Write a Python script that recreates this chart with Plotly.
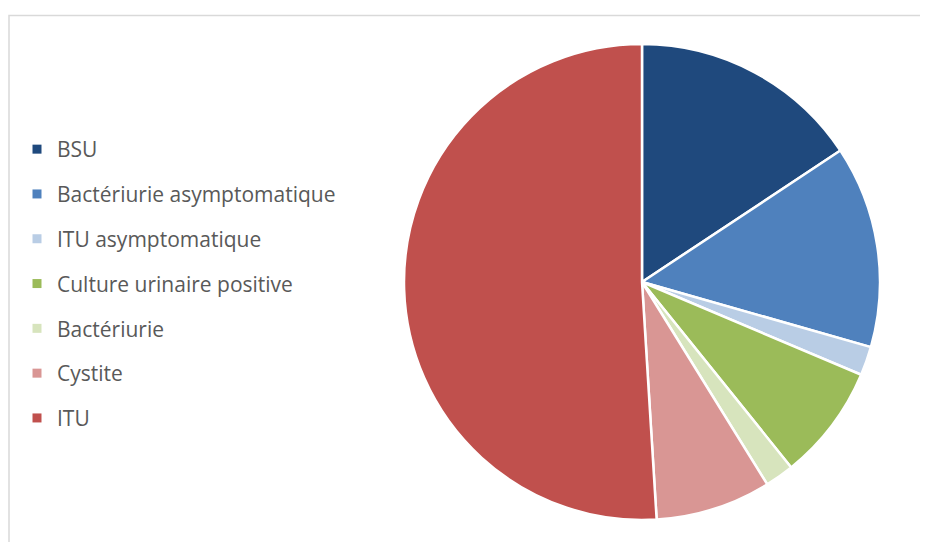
import plotly.graph_objects as go

labels = ['BSU', 'Bactériurie asymptomatique', 'ITU asymptomatique', 'Culture urinaire positive',
          'Bactériurie', 'Cystite', 'ITU']
values = [8, 7, 1, 4, 1, 4, 26]
colors = ['#1F497D', '#4F81BD', '#B9CDE5', '#9BBB59', '#D7E4BD', '#D99694', '#C0504D']

W, H = 928, 542
OFF = 8  # page body margin

fig = go.Figure()

fig.add_trace(go.Pie(
    labels=labels, values=values, sort=False, direction='clockwise', rotation=0,
    marker=dict(colors=colors, line=dict(color='white', width=2.5)),
    textinfo='none', hoverinfo='label+value+percent', showlegend=False,
    domain=dict(x=[(404 - OFF) / W, (880 - OFF) / W],
                y=[1 - (520 - OFF) / H, 1 - (44 - OFF) / H]),
))

# legend entries (one group each so the rows can be spaced out like the original)
for lab, col in zip(labels, colors):
    fig.add_trace(go.Scatter(
        x=[None], y=[None], mode='markers', name=lab, legendgroup=lab,
        marker=dict(symbol='square', size=9, color=col),
    ))

fig.update_layout(
    width=W, height=H,
    margin=dict(l=0, r=0, t=0, b=0),
    paper_bgcolor='white', plot_bgcolor='white',
    font=dict(family='Open Sans, sans-serif', color='#595959'),
    xaxis=dict(visible=False), yaxis=dict(visible=False),
    legend=dict(x=9 / W, y=1 - 121 / H, xanchor='left', yanchor='top',
                font=dict(size=21, color='#595959'), tracegroupgap=14.5,
                itemwidth=30, bgcolor='rgba(0,0,0,0)'),
    shapes=[dict(type='rect', xref='paper', yref='paper',
                 x0=1 / W, x1=1.02, y0=-0.02, y1=1 - (15.5 - OFF) / H,
                 line=dict(color='#D9D9D9', width=1.5), layer='below')],
)

fig.write_html("out.html")
